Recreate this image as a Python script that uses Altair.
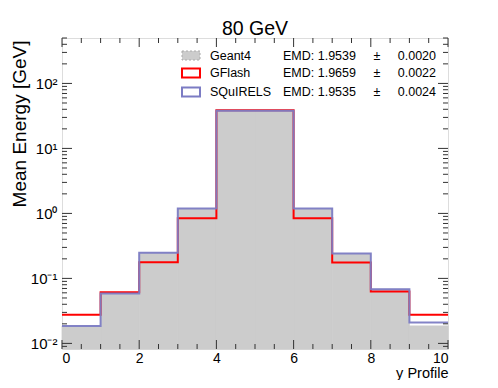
import altair as alt
import pandas as pd

# ---------------- data ----------------
bin_edges = [0, 1, 2, 3, 4, 5, 6, 7, 8, 9, 10]
geant4 = [0.0186, 0.0588, 0.248, 1.19, 37.9, 37.9, 1.19, 0.242, 0.0684, 0.0186]
gflash = [0.0275, 0.0615, 0.178, 0.84, 38.5, 38.5, 0.84, 0.176, 0.063, 0.0275]
squirels = [0.0186, 0.0588, 0.248, 1.19, 37.9, 37.9, 1.19, 0.242, 0.0684, 0.021]

x_major = [0, 2, 4, 6, 8, 10]
x_minor = [0.5, 1, 1.5, 2.5, 3, 3.5, 4.5, 5, 5.5, 6.5, 7, 7.5, 8.5, 9, 9.5]
y_major = [0.01, 0.1, 1, 10, 100]
y_tick_labels = ["10⁻²", "10⁻¹", "10⁰", "10¹", "10²"]
y_minor = [0.009, 0.02, 0.03, 0.04, 0.05, 0.06, 0.07, 0.08, 0.09,
           0.2, 0.3, 0.4, 0.5, 0.6, 0.7, 0.8, 0.9,
           2, 3, 4, 5, 6, 7, 8, 9,
           20, 30, 40, 50, 60, 70, 80, 90,
           200, 300, 400, 500]

legend_names = ["Geant4", "GFlash", "SQuIRELS"]
legend_emd = ["EMD: 1.9539", "EMD: 1.9659", "EMD: 1.9535"]
legend_err = ["0.0020", "0.0022", "0.0024"]

title_text = ["80 GeV"]
x_title = "y Profile"
y_title = "Mean Energy [GeV]"

# ---------------- layout / style ----------------
W, H = 386, 311
FONT = "Liberation Sans"
RED = "#ff0000"
BLUE = "#7c7cc4"
GREY = "#cccccc"

xs = alt.Scale(domain=[0, 10], nice=False, zero=False)
ys = alt.Scale(type="log", domain=[0.0082, 500], nice=False)

label_expr = " : ".join(
    f"datum.value > {v * 0.5} && datum.value < {v * 2} ? '{lab}'" for v, lab in zip(y_major, y_tick_labels)
) + " : ''"

x_axis = alt.Axis(values=x_major, ticks=False, domain=False, grid=False, labelFont=FONT,
                  labelFontSize=14, labelColor="black", labelPadding=2,
                  title=x_title, titleFont=FONT, titleFontSize=14.5, titleFontWeight="normal",
                  titleColor="black", titleX=W, titleY=28, titleAlign="right",
                  titleBaseline="alphabetic", format="d")
y_axis = alt.Axis(values=y_major, labelExpr=label_expr, ticks=False, domain=False, grid=False,
                  labelFont=FONT, labelFontSize=15, labelColor="black", labelPadding=5,
                  title=y_title, titleFont=FONT, titleFontSize=19, titleFontWeight="normal",
                  titleColor="black", titleAngle=-90, titleX=-37, titleY=2,
                  titleAlign="right", titleBaseline="alphabetic")


def X(field):
    return alt.X(field, type="quantitative", scale=xs, axis=x_axis)


def X2(field):
    return alt.X2(field)


def Y(field):
    return alt.Y(field, type="quantitative", scale=ys, axis=y_axis)


# histogram fill (Geant4)
fill_df = pd.DataFrame({"lo": bin_edges[:-1], "hi": bin_edges[1:], "val": geant4})
fill = alt.Chart(fill_df).mark_rect(color=GREY, stroke=GREY, strokeWidth=0.8).encode(
    x=X("lo"), x2=X2("hi"), y=Y("val"), y2=alt.datum(ys.domain[0])
)


def step_df(vals):
    return pd.DataFrame({"edge": bin_edges, "val": list(vals) + [vals[-1]]})


red_line = alt.Chart(step_df(gflash)).mark_line(
    color=RED, strokeWidth=2, interpolate="step-after", clip=True
).encode(x=X("edge"), y=Y("val"))
blue_line = alt.Chart(step_df(squirels)).mark_line(
    color=BLUE, strokeWidth=2, interpolate="step-after", clip=True, opacity=0.95
).encode(x=X("edge"), y=Y("val"))

# inward ticks (ROOT style)
tick_col = "#333333"
layers = [fill, red_line, blue_line]
for vals, ln in [(x_major, 9), (x_minor, 5)]:
    d = pd.DataFrame({"t": vals})
    layers.append(alt.Chart(d).mark_rule(color=tick_col, strokeWidth=1).encode(
        x=X("t"), y=alt.value(H), y2=alt.value(H - ln)))
    layers.append(alt.Chart(d).mark_rule(color=tick_col, strokeWidth=1).encode(
        x=X("t"), y=alt.value(0), y2=alt.value(ln)))
for vals, ln in [(y_major, 10), (y_minor, 5)]:
    d = pd.DataFrame({"t": vals})
    layers.append(alt.Chart(d).mark_rule(color=tick_col, strokeWidth=1).encode(
        y=Y("t"), x=alt.value(0), x2=alt.value(ln)))
    layers.append(alt.Chart(d).mark_rule(color=tick_col, strokeWidth=1).encode(
        y=Y("t"), x=alt.value(W), x2=alt.value(W - ln)))

# title as text mark above the frame
title_df = pd.DataFrame({"t": title_text})
layers.append(alt.Chart(title_df).mark_text(
    font=FONT, fontSize=19.5, color="black", align="center", baseline="alphabetic"
).encode(text="t:N", x=alt.value(W / 2), y=alt.value(-3)))

# legend
leg_df = pd.DataFrame({"name": legend_names, "emd": legend_emd, "err": legend_err, "pm": ["±"] * 3})
row_y = [17.5, 35, 54]
box_styles = [
    dict(fill=GREY, stroke="#aaaaaa", strokeWidth=1, strokeDash=[2, 2]),
    dict(fill="white", stroke=RED, strokeWidth=2),
    dict(fill="white", stroke=BLUE, strokeWidth=2),
]
for i, yc in enumerate(row_y):
    row = alt.Chart(leg_df.iloc[[i]])
    layers.append(row.mark_rect(**box_styles[i]).encode(
        x=alt.value(120), x2=alt.value(138), y=alt.value(yc - 4.5), y2=alt.value(yc + 4.5)))
    tkw = dict(font=FONT, fontSize=12.5, color="black", baseline="middle")
    layers.append(row.mark_text(align="left", **tkw).encode(
        text="name:N", x=alt.value(148), y=alt.value(yc)))
    layers.append(row.mark_text(align="left", **tkw).encode(
        text="emd:N", x=alt.value(221), y=alt.value(yc)))
    layers.append(row.mark_text(align="center", **tkw).encode(
        text="pm:N", x=alt.value(315), y=alt.value(yc)))
    layers.append(row.mark_text(align="right", **tkw).encode(
        text="err:N", x=alt.value(374), y=alt.value(yc)))

chart = alt.layer(*layers).properties(
    width=W, height=H,
    autosize=alt.AutoSizeParams(type="none"),
    padding={"left": 54, "top": 30, "right": 40, "bottom": 31},
).configure_view(stroke="black", strokeWidth=1.5).configure(background="white")

chart.save("out.html", embed_options={"renderer": "svg", "actions": False})
